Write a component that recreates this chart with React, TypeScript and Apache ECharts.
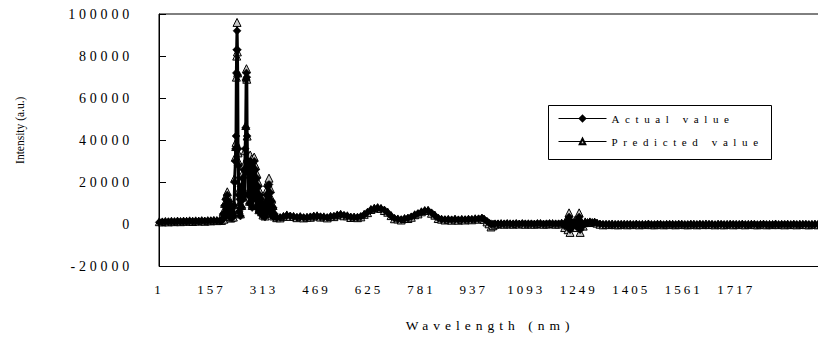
import React, { useEffect, useRef } from 'react';
import * as echarts from 'echarts';

// wavelength index (category number) of each sampled point
const wavelengthIdx = [
  // baseline before the main peaks
  1, 10, 19, 28, 37, 46, 55, 64, 73, 82, 91, 100, 109, 118, 127, 136, 145, 154, 163, 172, 181,
  // main peak cluster
  186, 189, 191, 193, 195, 197, 199, 201, 203, 205, 207, 209, 211, 213, 215, 217, 219, 221, 223, 225,
  227, 228, 229, 230, 231, 232, 233, 234, 235, 236, 237, 238, 240, 242, 244, 246, 248, 250, 252, 254,
  256, 258, 259, 260, 261, 262, 263, 265, 267, 269, 271, 273, 275, 277, 279, 281, 283, 285, 287, 289,
  291, 293, 295, 297, 299, 301, 303, 305, 307, 309, 311, 313, 315, 317, 319, 321, 323, 325, 327, 329,
  331, 333, 335, 337, 339, 341, 343,
  // broad bumps
  350, 360, 370, 380, 390, 400, 410, 420, 430, 440, 450, 460, 470, 480, 490, 500, 510, 520, 530, 540,
  550, 560, 570, 580, 590, 600, 610, 620, 630, 640, 650, 660, 670, 680, 690, 700, 710, 720, 730, 740,
  750, 760, 770, 780, 790, 800, 810, 820, 830, 840, 850, 860, 870, 880, 890, 900, 910, 920, 930, 940,
  950, 960, 966, 975, 981, 987, 993, 999,
  // low plateau
  1008, 1017, 1026, 1035, 1044, 1053, 1062, 1071, 1080, 1089, 1098, 1107, 1116, 1125, 1134, 1143, 1152, 1161, 1170, 1179,
  1188, 1197,
  // oscillation
  1206, 1212, 1216, 1219, 1222, 1226, 1231, 1236, 1241, 1246, 1249, 1252, 1256, 1261, 1267, 1274, 1281, 1288, 1295, 1302,
  // flat tail
  1311, 1320, 1329, 1338, 1347, 1356, 1365, 1374, 1383, 1392, 1401, 1410, 1419, 1428, 1437, 1446, 1455, 1464, 1473, 1482,
  1491, 1500, 1509, 1518, 1527, 1536, 1545, 1554, 1563, 1572, 1581, 1590, 1599, 1608, 1617, 1626, 1635, 1644, 1653, 1662,
  1671, 1680, 1689, 1698, 1707, 1716, 1725, 1734, 1743, 1752, 1761, 1770, 1779, 1788, 1797, 1806, 1815, 1824, 1833, 1842,
  1851, 1860, 1869, 1878, 1887, 1896, 1905, 1914, 1923, 1932, 1941, 1950, 1959, 1968,
];

const actualValues = [
  1000, 1100, 1200, 1300, 1300, 1300, 1400, 1400, 1400, 1400, 1500, 1500, 1500, 1500, 1600, 1600, 1600, 1700, 1700, 1700, 1800,
  1800, 2500, 5000, 3000, 9000, 4000, 12000, 6000, 14000, 8000, 11000, 4000, 9000, 3500, 7000, 3000, 5000, 4000, 9000, 20000,
  30000, 36000, 42000, 72000, 83000, 92000, 83000, 71000, 36000, 28000, 14000, 6000, 12000, 4000, 18000, 8000, 22000, 12000, 26000, 14000,
  36000, 46000, 69000, 72000, 70000, 42000, 30000, 14000, 26000, 10000, 30000, 16000, 28000, 8000, 24000, 12000, 30000, 18000, 26000, 8000,
  22000, 12000, 18000, 6000, 14000, 9000, 12000, 5000, 10000, 4000, 8000, 5000, 3500, 9000, 14000, 6000, 18000, 10000, 19000, 8000,
  15000, 5000, 11000, 4000, 8000, 3500, 5000,
  3000, 3300, 3600, 4200, 4000, 3600, 3400, 3500, 3300, 3200, 3600, 3800, 3900, 3700, 3400, 3300, 3600, 3900, 4300, 4600,
  4300, 3900, 3500, 3300, 3400, 3800, 4600, 5800, 6900, 7500, 7800, 7400, 6800, 5600, 4000, 2900, 2400, 2300, 2600, 3000,
  3600, 4400, 5200, 5800, 6400, 6500, 5500, 4200, 3000, 2300, 2300, 2200, 2200, 2300, 2200, 2200, 2300, 2300, 2400, 2500,
  2700, 2900, 2600, 1500, 700, 300, 200, 300,
  300, 200, 300, 400, 200, 300, 300, 200, 400, 300, 200, 300, 200, 400, 300, 200, 300, 400, 200, 300,
  300, 400,
  -800, 1500, -1500, 3500, -2500, 1000, -800, 1200, -1000, 1500, 3500, -2500, 800, -500, 800, 600, 1000, 700, 900, 500,
  200, 100, 0, 100, -100, 0, 100, 0, -100, 100, 0, -100, 100, 0, -100, 0, 100, -100, 0, 100,
  0, -100, 0, 100, -100, 0, 100, 0, -100, 0, 100, -100, 0, 100, 0, -100, 100, 0, -100, 0,
  100, 0, -100, 0, 100, -100, 0, 100, 0, -100, 0, 100, -100, 0, 100, 0, -100, 0, 100, -100,
  0, 100, 0, -100, 100, 0, -100, 0, 100, 0, -100, 0, 100, 0,
];

const predictedValues = [
  1300, 1200, 1400, 1200, 1500, 1300, 1600, 1300, 1600, 1500, 1700, 1400, 1700, 1600, 1800, 1500, 1800, 1700, 1900, 1800, 2000,
  1900, 3000, 6000, 2500, 10000, 5000, 13500, 7000, 15500, 9000, 12500, 4500, 10000, 3000, 8000, 3500, 6000, 3500, 9500, 22000,
  32000, 37000, 39000, 70000, 80000, 96000, 82000, 72000, 34000, 30000, 16000, 7000, 10000, 5000, 16000, 9000, 24000, 13000, 28000, 15000,
  35000, 47000, 70000, 74000, 69000, 42000, 32000, 15000, 28000, 11000, 33000, 18000, 31000, 9000, 27000, 13000, 32000, 20000, 28000, 9000,
  24000, 13000, 20000, 7000, 16000, 10000, 13000, 6000, 11000, 4500, 9000, 5500, 4000, 10000, 16000, 7000, 20000, 12000, 22000, 9000,
  17000, 6000, 12000, 5000, 9000, 4000, 5500,
  3200, 3100, 3800, 4500, 3800, 3800, 3200, 3700, 3100, 3400, 3400, 4000, 4100, 3500, 3600, 3100, 3800, 3700, 4500, 4800,
  4100, 4100, 3300, 3500, 3200, 3600, 4800, 5600, 7100, 7700, 8000, 7600, 6600, 5800, 4200, 2700, 2600, 2100, 2800, 2800,
  3400, 4600, 5000, 6000, 6600, 6700, 5300, 4400, 2800, 2500, 2100, 2400, 2000, 2500, 2000, 2400, 2100, 2500, 2200, 2700,
  2500, 3000, 2400, 1200, 300, -1200, -600, 100,
  200, 400, 100, 300, 300, 100, 400, 200, 300, 100, 300, 200, 100, 300, 400, 100, 200, 300, 400, 100,
  200, 600,
  -1500, 2500, -2500, 5500, -3800, 1500, -1200, 1800, -1500, 2500, 5500, -3800, 1200, -800, 1200, 900, 1200, 900, 1100, 600,
  100, -200, 0, -100, 200, -100, -200, 0, 100, -200, 0, -100, 100, -200, 0, -100, 200, -100, -200, 0,
  100, -200, 0, -100, 100, -200, 0, 100, -100, -200, 0, 100, -200, 0, -100, 200, -100, 0, -200, 100,
  -100, -200, 0, 100, -200, 0, -100, 100, -200, 0, 100, -100, -200, 0, 100, -200, 0, -100, 200, -100,
  0, -200, 100, -100, 0, -200, 100, 0, -100, -200, 0, 100, -200, 0,
];

const xTickLabels = ['1', '157', '313', '469', '625', '781', '937', '1093', '1249', '1405', '1561', '1717'];
const seriesNames = ['Actual value', 'Predicted value'];
const xAxisTitle = 'Wavelength (nm)';
const yAxisTitle = 'Intensity (a.u.)';

const FONT = "'Liberation Serif', 'Times New Roman', serif";

const css = `
.chart-host text[style*="14px"] { letter-spacing: 3.8px; }
.chart-host text[style*="13px"] { letter-spacing: 3px; }
.chart-host text[style*="11px"] { letter-spacing: 5.6px; }
.chart-host text[style*="13.5px"] { letter-spacing: 5px; }
`;

export default function App() {
  const ref = useRef<HTMLDivElement>(null);

  useEffect(() => {
    if (!ref.current) return;
    const chart = echarts.init(ref.current, null, { renderer: 'svg' });
    const actualData = wavelengthIdx.map((w, i) => [w, actualValues[i]]);
    const predictedData = wavelengthIdx.map((w, i) => [w, predictedValues[i]]);

    chart.setOption({
      animation: false,
      backgroundColor: '#fff',
      grid: {
        left: 159,
        top: 14,
        right: -3,
        bottom: 71.5,
        show: true,
        borderColor: '#000',
        borderWidth: 1,
        backgroundColor: 'transparent',
        outerBoundsMode: 'none',
      },
      legend: {
        orient: 'vertical',
        left: 548,
        top: 105,
        padding: [8, 10, 8, 10],
        itemWidth: 48,
        itemHeight: 7,
        itemGap: 12,
        z: 10,
        lineStyle: { width: 1, color: '#000' },
        textStyle: { fontFamily: FONT, fontSize: 11, color: '#000' },
        data: seriesNames,
      },
      graphic: [
        {
          type: 'rect',
          z: 5,
          shape: { x: 548.5, y: 105.5, width: 223, height: 54 },
          style: { fill: '#fff', stroke: '#000', lineWidth: 1 },
        },
      ],
      xAxis: {
        type: 'value',
        min: 0,
        max: 1968,
        interval: 156,
        name: xAxisTitle,
        nameLocation: 'middle',
        nameGap: 52,
        nameTextStyle: { fontFamily: FONT, fontSize: 13.5, color: '#000' },
        axisLine: { show: false, onZero: false },
        axisTick: { show: false },
        splitLine: { show: false },
        axisLabel: {
          margin: 16,
          fontFamily: FONT,
          fontSize: 13,
          color: '#000',
          formatter: (v: number) => {
            const i = v / 156;
            return Number.isInteger(i) && xTickLabels[i] ? xTickLabels[i] : '';
          },
        },
      },
      yAxis: {
        type: 'value',
        min: -20000,
        max: 100000,
        interval: 20000,
        name: yAxisTitle,
        nameLocation: 'middle',
        nameGap: 133,
        nameTextStyle: { fontFamily: FONT, fontSize: 11.5, color: '#000', padding: [0, 0, 0, 20] },
        axisLine: { show: true, lineStyle: { color: '#000', width: 1 } },
        axisTick: { show: true, inside: true, length: 7, lineStyle: { color: '#000' } },
        splitLine: { show: false },
        axisLabel: {
          margin: 26,
          fontFamily: FONT,
          fontSize: 14,
          color: '#000',
          formatter: (v: number) => String(v),
        },
      },
      series: [
        {
          name: seriesNames[0],
          type: 'line',
          data: actualData,
          symbol: 'diamond',
          symbolSize: 8,
          showSymbol: true,
          z: 3,
          itemStyle: { color: '#000', borderColor: '#000', borderWidth: 0.5 },
          lineStyle: { color: '#000', width: 3 },
          emphasis: { disabled: true },
        },
        {
          name: seriesNames[1],
          type: 'line',
          data: predictedData,
          symbol: 'triangle',
          symbolSize: 8,
          showSymbol: true,
          z: 2,
          itemStyle: { color: '#c8c8c8', borderColor: '#000', borderWidth: 1 },
          lineStyle: { color: '#000', width: 2 },
          emphasis: { disabled: true },
        },
      ],
    });

    return () => chart.dispose();
  }, []);

  return (
    <>
      <style>{css}</style>
      <div
        ref={ref}
        className="chart-host"
        style={{ position: 'fixed', left: 0, top: 0, width: 818, height: 338, background: '#fff' }}
      />
    </>
  );
}
